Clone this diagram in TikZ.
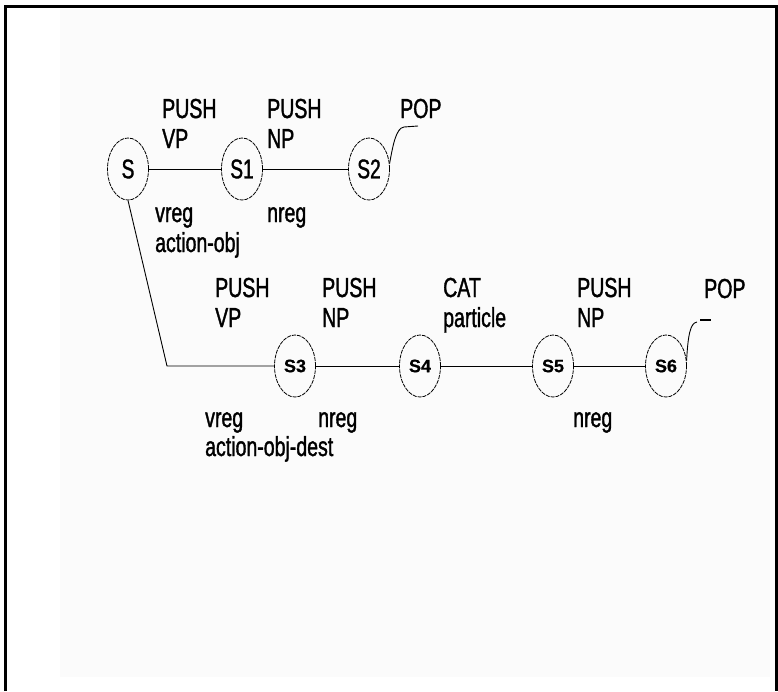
\documentclass[tikz,border=0pt]{standalone}
\usepackage{fontspec}
\setmainfont{Liberation Sans}
\newfontfamily\lab[FakeStretch=0.71,FakeBold=1.3]{Liberation Sans}
\newfontfamily\slab[FakeBold=0.6]{Liberation Sans}
\usetikzlibrary{shapes.geometric}
\tikzset{
  state/.style={ellipse, draw, dash pattern=on 4pt off 1pt, line width=0.8pt,
    minimum width=41pt, minimum height=62pt, inner sep=0pt},
  topst/.style={state, font=\lab\fontsize{27}{27}\selectfont},
  botst/.style={state, font=\slab\bfseries\fontsize{18}{18}\selectfont},
  lbl/.style={anchor=base west, inner sep=0pt, font=\lab\fontsize{27.5}{30}\selectfont},
  conn/.style={line width=0.9pt}
}
\begin{document}
\begin{tikzpicture}[x=1pt,y=-1pt]
\useasboundingbox (0,0) rectangle (778,691);
\fill[black!1.5] (60,9) rectangle (770,677);
\draw[line width=3pt] (5.5,691) -- (5.5,6.5) -- (776,6.5) -- (776,691);

% states
\node[topst] (S)  at (128,169) {S};
\node[topst] (S1) at (242,169) {S1};
\node[topst] (S2) at (369,169) {S2};
\node[botst] (S3) at (295,366) {S3};
\node[botst] (S4) at (420,366) {S4};
\node[botst] (S5) at (553,366) {S5};
\node[botst] (S6) at (666,366) {S6};

% connectors
\coordinate (c1) at (167,366);
\draw[conn] (S.south) -- (c1) -- (S3);
\draw[conn] (S) -- (S1);
\draw[conn] (S1) -- (S2);
\draw[conn] (S3) -- (S4);
\draw[conn] (S4) -- (S5);
\draw[conn] (S5) -- (S6);

% POP hooks
\coordinate (h1) at (404,127);
\coordinate (h1e) at (418,126);
\draw[conn] (S2.15) .. controls (393,145) and (396,128) .. (h1) -- (h1e);
\coordinate (h2) at (697,322);
\coordinate (d2a) at (700,320);
\coordinate (d2b) at (711,320);
\draw[conn] (S6.15) .. controls (688,336) and (690,323) .. (h2);
\draw[line width=2pt] (d2a) -- (d2b);

% top row labels
\node[lbl] (p1) at (162,118) {PUSH};
\node[lbl] (v1) at (162,148) {VP};
\node[lbl] (p2) at (267,118) {PUSH};
\node[lbl] (n2) at (267,148) {NP};
\node[lbl] (pop1) at (400,118) {POP};
\node[lbl] (vr1) at (155,222) {vreg};
\node[lbl] (ao1) at (155,252) {action-obj};
\node[lbl] (nr1) at (267,222) {nreg};

% bottom row labels
\node[lbl] (p3) at (215,297) {PUSH};
\node[lbl] (v3) at (215,327) {VP};
\node[lbl] (p4) at (322,297) {PUSH};
\node[lbl] (n4) at (322,327) {NP};
\node[lbl] (cat) at (443,297) {CAT};
\node[lbl] (part) at (443,327) {particle};
\node[lbl] (p5) at (577,297) {PUSH};
\node[lbl] (n5) at (577,327) {NP};
\node[lbl] (pop2) at (704,298) {POP};
\node[lbl] (vr3) at (205,427) {vreg};
\node[lbl] (aod) at (205,456) {action-obj-dest};
\node[lbl] (nr3) at (318,427) {nreg};
\node[lbl] (nr5) at (573,427) {nreg};
\end{tikzpicture}
\end{document}
